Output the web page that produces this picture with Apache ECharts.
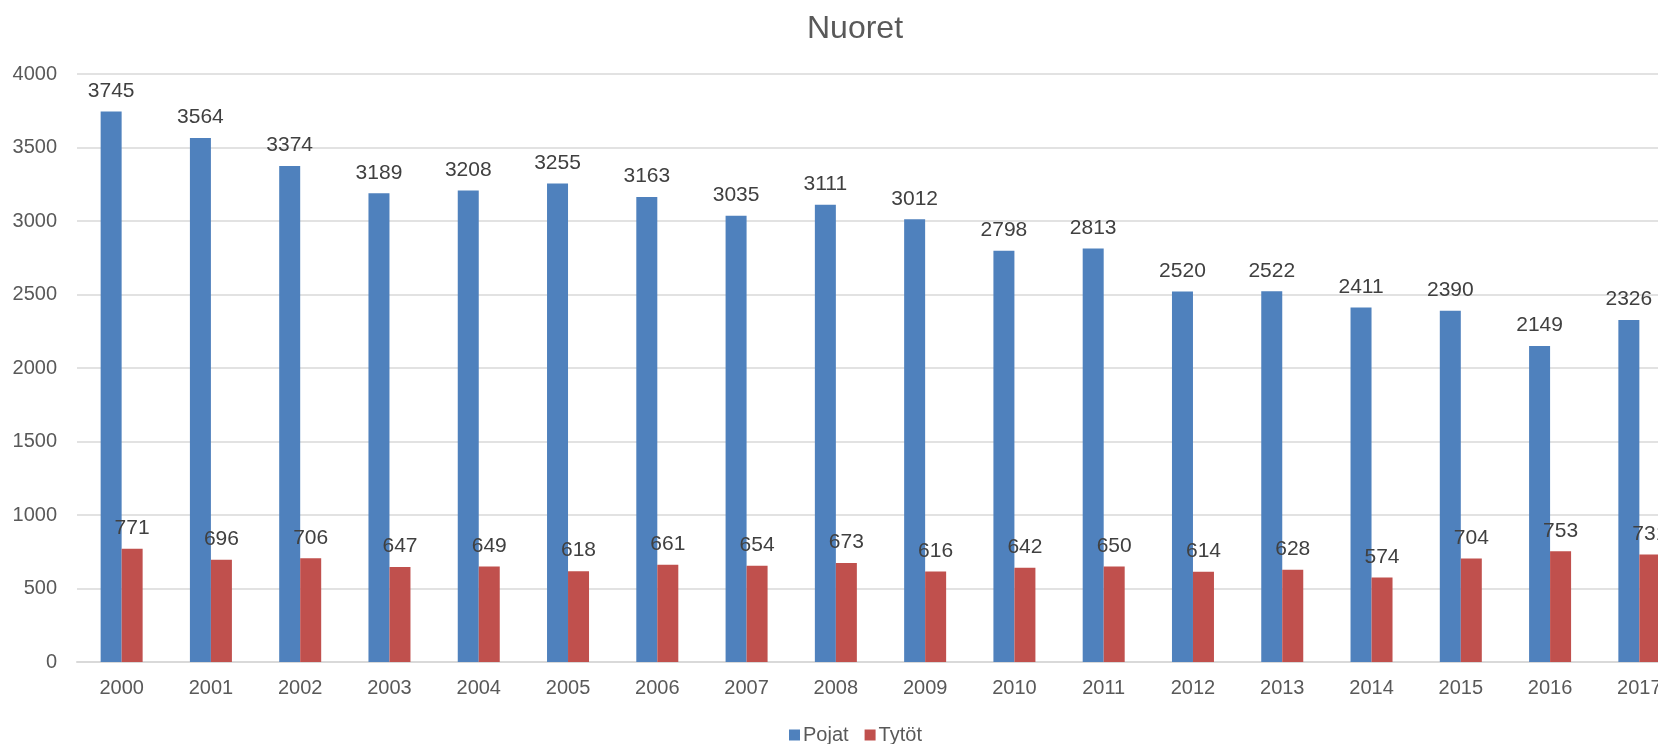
<!DOCTYPE html>
<html>
<head>
<meta charset="utf-8">
<script src="https://cdn.jsdelivr.net/npm/echarts@6/dist/echarts.min.js"></script>
<style>
  html, body { margin: 0; padding: 0; background: #fff; }
  #chart { width: 1658px; height: 744px; }
</style>
</head>
<body>
<div id="chart"></div>
<script>
var years = ['2000', '2001', '2002', '2003', '2004', '2005', '2006', '2007', '2008',
    '2009', '2010', '2011', '2012', '2013', '2014', '2015', '2016', '2017'];
var pojat = [3745, 3564, 3374, 3189, 3208, 3255, 3163, 3035, 3111,
    3012, 2798, 2813, 2520, 2522, 2411, 2390, 2149, 2326];
var tytot = [771, 696, 706, 647, 649, 618, 661, 654, 673,
    616, 642, 650, 614, 628, 574, 704, 753, 731];
var yTicks = { min: 0, max: 4000, interval: 500 };

var chart = echarts.init(document.getElementById('chart'));

var font = '"Liberation Sans", Arial, sans-serif';

var labelStyle = {
    show: true,
    position: 'top',
    distance: 10,
    color: '#404040',
    fontSize: 21,
    fontFamily: font
};

var option = {
    animation: false,
    title: {
        text: 'Nuoret',
        left: 802,
        top: 8,
        textStyle: {
            color: '#595959',
            fontSize: 32,
            fontWeight: 'normal',
            fontFamily: font
        }
    },
    legend: {
        data: ['Pojat', 'Tytöt'],
        left: 784,
        top: 720,
        itemWidth: 11,
        itemHeight: 11,
        itemGap: 16,
        icon: 'rect',
        textStyle: { color: '#595959', fontSize: 20, fontFamily: font, padding: [0, 0, 0, -2] }
    },
    grid: {
        left: 77,
        right: -26,
        top: 74,
        bottom: 82,
        containLabel: false,
        outerBoundsMode: 'none'
    },
    xAxis: {
        type: 'category',
        data: years,
        axisLine: { lineStyle: { color: '#d9d9d9', width: 2 } },
        axisTick: { show: false },
        axisLabel: { color: '#595959', fontSize: 20, fontFamily: font, margin: 16 }
    },
    yAxis: {
        type: 'value',
        min: yTicks.min,
        max: yTicks.max,
        interval: yTicks.interval,
        axisLine: { show: false },
        axisTick: { show: false },
        splitLine: { lineStyle: { color: '#d9d9d9', width: 1.5 } },
        axisLabel: {
            color: '#595959', fontSize: 20, fontFamily: font, margin: 20,
            formatter: function (v) { return String(v); }
        }
    },
    series: [
        {
            name: 'Pojat',
            type: 'bar',
            data: pojat,
            barWidth: 21,
            barGap: '0%',
            itemStyle: { color: '#4F81BD' },
            label: labelStyle
        },
        {
            name: 'Tytöt',
            type: 'bar',
            data: tytot,
            barWidth: 21,
            itemStyle: { color: '#C0504D' },
            label: labelStyle
        }
    ]
};

chart.setOption(option);
</script>
</body>
</html>
